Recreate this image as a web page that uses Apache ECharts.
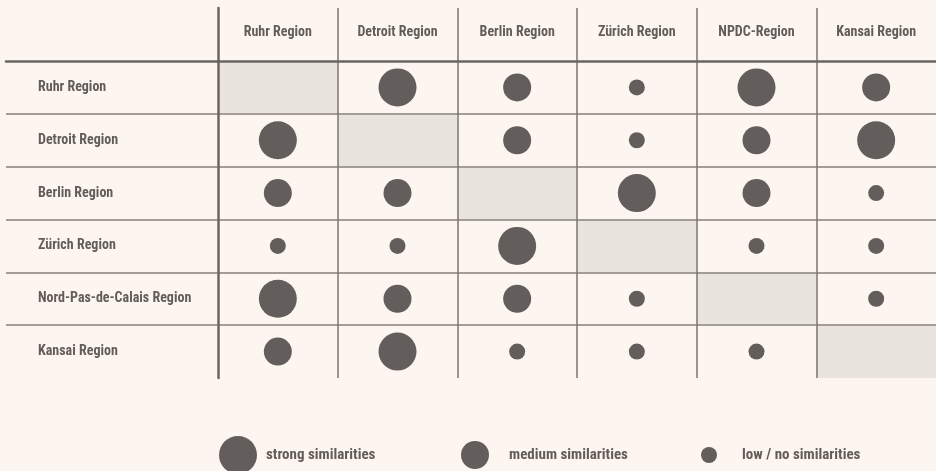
<!DOCTYPE html>
<html><head><meta charset="utf-8">
<script src="https://cdn.jsdelivr.net/npm/echarts@6/dist/echarts.min.js"></script>
<style>html,body{margin:0;padding:0;background:#fdf6f0;} #c{width:936px;height:471px;}</style>
</head><body><div id="c"></div>
<script>
// ---- data ----
const columns = ['Ruhr Region', 'Detroit Region', 'Berlin Region', 'Zürich Region', 'NPDC-Region', 'Kansai Region'];
const rows = ['Ruhr Region', 'Detroit Region', 'Berlin Region', 'Zürich Region', 'Nord-Pas-de-Calais Region', 'Kansai Region'];
// 3 = strong, 2 = medium, 1 = low / no, 0 = same region (shaded)
const ruhrRow    = [0, 3, 2, 1, 3, 2];
const detroitRow = [3, 0, 2, 1, 2, 3];
const berlinRow  = [2, 2, 0, 3, 2, 1];
const zurichRow  = [1, 1, 3, 0, 1, 1];
const npdcRow    = [3, 2, 2, 1, 0, 1];
const kansaiRow  = [2, 3, 1, 1, 1, 0];
const levelNames = ['strong similarities', 'medium similarities', 'low / no similarities'];
const levelValues = [3, 2, 1];

// ---- styles ----
const FONT = '"Roboto Condensed", Roboto, sans-serif';
const TEXT = '#635d59';
const DOT = '#635e5b';
const THICK = { color: '#6b6561', width: 2.5 };
const VTHIN = { color: '#7b746f', width: 1.5 };
const HTHIN = { color: '#a49d97', width: 2 };
const levelSizes = { 3: 38, 2: 28, 1: 16 };

const matrix = [ruhrRow, detroitRow, berlinRow, zurichRow, npdcRow, kansaiRow];
const diag = [];
const byLevel = { 3: [], 2: [], 1: [] };
matrix.forEach((r, ri) => r.forEach((v, ci) => {
  if (v === 0) diag.push([ci, ri]); else byLevel[v].push([ci, ri]);
}));

const chart = echarts.init(document.getElementById('c'), null, { renderer: 'canvas' });
const legendPos = [
  { left: 219, top: 436, size: 38, pad: 4 },
  { left: 461, top: 441, size: 28, pad: 15 },
  { left: 701, top: 447, size: 16, pad: 20 }
];

chart.setOption({
  backgroundColor: '#fdf6f0',
  animation: false,
  grid: [
    { left: 218, right: 0, top: 61, bottom: 93 },
    { left: 6, width: 212, top: 61, bottom: 93 },
    { left: 218, right: 0, top: 8, height: 53 }
  ],
  xAxis: [
    {
      gridIndex: 0, type: 'category', data: columns, position: 'top', z: 5,
      axisLine: { show: true, lineStyle: THICK },
      axisTick: { show: false },
      axisLabel: { interval: 0, margin: 29, verticalAlign: 'middle', color: TEXT, fontFamily: FONT, fontWeight: 'bold', fontSize: 14 },
      splitLine: { show: true, interval: 0, showMinLine: false, showMaxLine: false, lineStyle: VTHIN }
    },
    {
      gridIndex: 1, type: 'value', position: 'top', min: 0, max: 1, z: 5,
      axisLine: { show: true, onZero: false, lineStyle: THICK },
      axisTick: { show: false }, axisLabel: { show: false }, splitLine: { show: false }
    },
    {
      gridIndex: 2, type: 'category', data: columns, z: 5,
      axisLine: { show: false }, axisTick: { show: false }, axisLabel: { show: false },
      splitLine: { show: true, interval: 0, showMinLine: false, showMaxLine: false, lineStyle: VTHIN }
    }
  ],
  yAxis: [
    {
      gridIndex: 0, type: 'category', data: rows, inverse: true, z: 5,
      axisLine: { show: true, lineStyle: THICK },
      axisTick: { show: false },
      axisLabel: { interval: 0, margin: 180, align: 'left', color: TEXT, fontFamily: FONT, fontWeight: 'bold', fontSize: 14 },
      splitLine: { show: true, interval: 0, showMinLine: false, showMaxLine: false, lineStyle: HTHIN }
    },
    {
      gridIndex: 1, type: 'category', data: rows, inverse: true, z: 5,
      axisLine: { show: false }, axisTick: { show: false }, axisLabel: { show: false },
      splitLine: { show: true, interval: 0, showMinLine: false, showMaxLine: false, lineStyle: HTHIN }
    },
    {
      gridIndex: 2, type: 'category', data: [''], z: 5,
      axisLine: { show: true, lineStyle: THICK },
      axisTick: { show: false }, axisLabel: { show: false }, splitLine: { show: false }
    }
  ],
  legend: levelNames.map((n, i) => ({
    data: [{ name: n, icon: 'circle' }],
    left: legendPos[i].left, top: legendPos[i].top, padding: 0,
    itemWidth: legendPos[i].size, itemHeight: legendPos[i].size,
    selectedMode: false,
    textStyle: { color: TEXT, fontFamily: FONT, fontWeight: 'bold', fontSize: 15, padding: [0, 0, 0, legendPos[i].pad] }
  })),
  series: [
    {
      type: 'custom', name: 'same', xAxisIndex: 0, yAxisIndex: 0, silent: true, z: 1,
      data: diag,
      renderItem: function (params, api) {
        const p = api.coord([api.value(0), api.value(1)]);
        const s = api.size([1, 1]);
        return { type: 'rect', shape: { x: p[0] - s[0] / 2, y: p[1] - s[1] / 2, width: s[0], height: s[1] }, style: { fill: '#e9e4de' } };
      }
    }
  ].concat(levelValues.map((lv, i) => ({
    type: 'scatter', name: levelNames[i], xAxisIndex: 0, yAxisIndex: 0, silent: true, z: 2,
    symbol: 'circle', symbolSize: levelSizes[lv],
    itemStyle: { color: DOT, opacity: 1 },
    data: byLevel[lv]
  })))
});
</script>
</body></html>
